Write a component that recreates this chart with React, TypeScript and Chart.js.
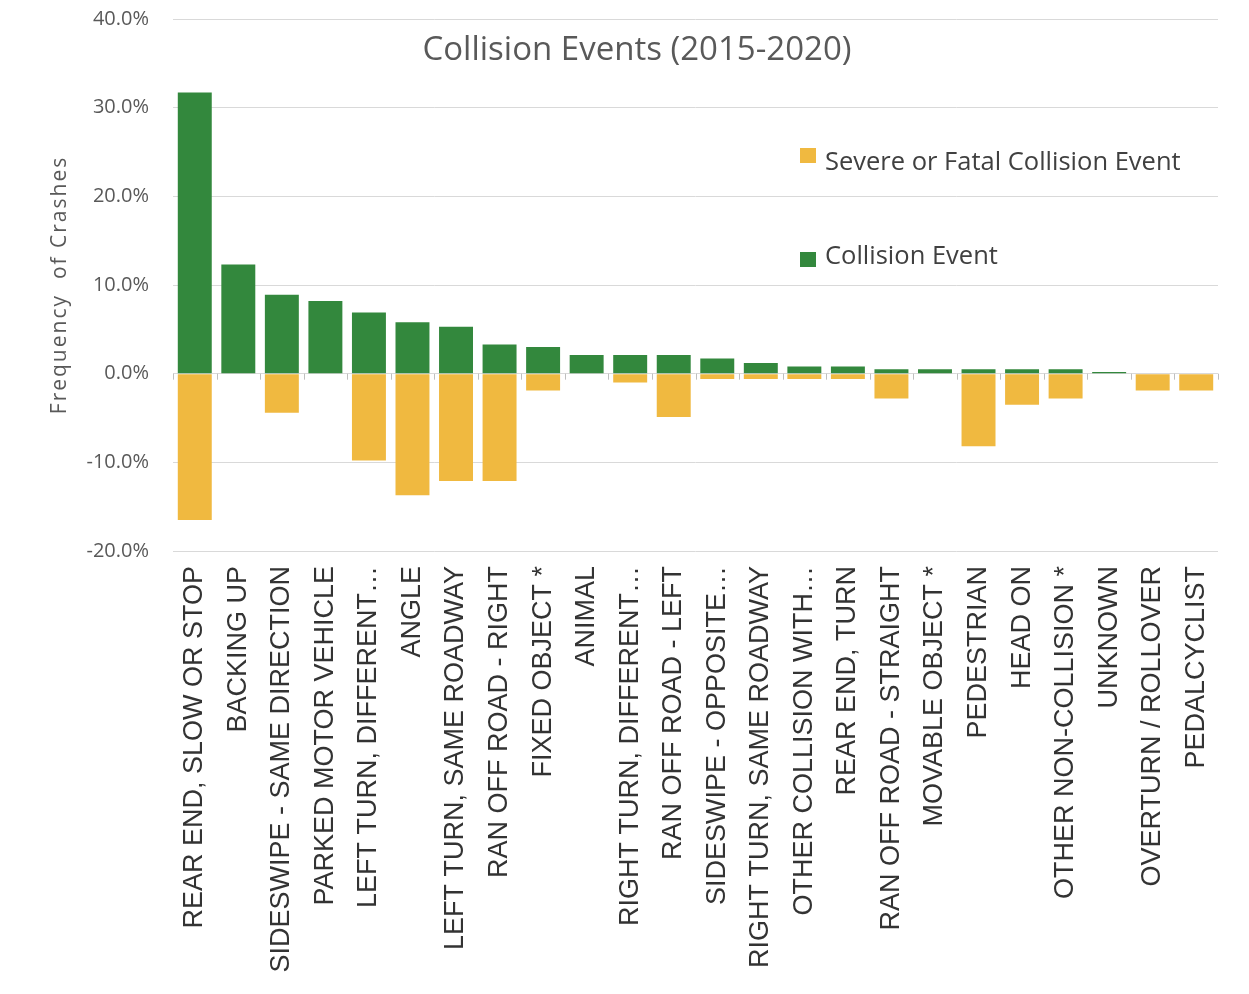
import React, { useEffect, useRef } from "react";
import { Chart, registerables } from "chart.js";

Chart.register(...registerables);

const categories = [
  "REAR END, SLOW OR STOP",
  "BACKING UP",
  "SIDESWIPE - SAME DIRECTION",
  "PARKED MOTOR VEHICLE",
  "LEFT TURN, DIFFERENT…",
  "ANGLE",
  "LEFT TURN, SAME ROADWAY",
  "RAN OFF ROAD - RIGHT",
  "FIXED OBJECT *",
  "ANIMAL",
  "RIGHT TURN, DIFFERENT…",
  "RAN OFF ROAD - LEFT",
  "SIDESWIPE - OPPOSITE…",
  "RIGHT TURN, SAME ROADWAY",
  "OTHER COLLISION WITH…",
  "REAR END, TURN",
  "RAN OFF ROAD - STRAIGHT",
  "MOVABLE OBJECT *",
  "PEDESTRIAN",
  "HEAD ON",
  "OTHER NON-COLLISION *",
  "UNKNOWN",
  "OVERTURN / ROLLOVER",
  "PEDALCYCLIST",
];

// Collision Event share (%)
const collisionEvent = [
  31.7, 12.3, 8.9, 8.2, 6.9, 5.8, 5.3, 3.3, 3.0, 2.1, 2.1, 2.1, 1.7, 1.2, 0.8,
  0.8, 0.5, 0.5, 0.5, 0.5, 0.5, 0.2, 0, 0,
];

// Severe or Fatal Collision Event share (%), plotted downward
const severeEvent = [
  -16.5, 0, -4.4, 0, -9.8, -13.7, -12.1, -12.1, -1.9, 0, -1.0, -4.9, -0.6, -0.6,
  -0.6, -0.6, -2.8, 0, -8.2, -3.5, -2.8, 0, -1.9, -1.9,
];

const chartTitle = "Collision Events (2015-2020)";
const yAxisTitle = "Frequency  of Crashes";
const seriesNames = ["Severe or Fatal Collision Event", "Collision Event"];
const yMin = -20;
const yMax = 40;
const yStep = 10;

const GREEN = "#33883d";
const YELLOW = "#f0b940";
const GRID = "#d9d9d9";
const TEXT_GRAY = "#595959";

const overlayPlugin = {
  id: "overlay",
  afterDraw(chart: any) {
    const ctx = chart.ctx;
    const xs = chart.scales.x;
    const ys = chart.scales.y;
    ctx.save();
    // small tick marks on the zero line between categories
    const y0 = ys.getPixelForValue(0);
    const step = xs.getPixelForValue(1) - xs.getPixelForValue(0);
    ctx.strokeStyle = "#bfbfbf";
    ctx.lineWidth = 1;
    for (let i = 0; i <= categories.length; i++) {
      const x = Math.round(xs.getPixelForValue(i) - step / 2) + 0.5;
      ctx.beginPath();
      ctx.moveTo(x, y0);
      ctx.lineTo(x, y0 + 6);
      ctx.stroke();
    }
    // title
    ctx.fillStyle = TEXT_GRAY;
    ctx.font = "33px 'Open Sans'";
    ctx.textAlign = "center";
    ctx.textBaseline = "middle";
    ctx.fillText(chartTitle, 629, 43);
    // y axis title
    ctx.save();
    ctx.translate(52, 277);
    ctx.rotate(-Math.PI / 2);
    ctx.font = "21px 'Open Sans'";
    (ctx as any).letterSpacing = "2px";
    ctx.fillStyle = TEXT_GRAY;
    ctx.fillText(yAxisTitle, 0, 0);
    ctx.restore();
    // legend
    ctx.font = "25.5px 'Open Sans'";
    ctx.textAlign = "left";
    ctx.textBaseline = "middle";
    const items = [
      { name: seriesNames[0], color: YELLOW, y: 155, sq: 140 },
      { name: seriesNames[1], color: GREEN, y: 249, sq: 244 },
    ];
    const lx = 792;
    for (const it of items) {
      ctx.fillStyle = it.color;
      ctx.fillRect(lx, it.sq, 16, 15);
      ctx.fillStyle = "#404040";
      ctx.fillText(it.name, lx + 25, it.y);
    }
    ctx.restore();
  },
};

export default function App() {
  const canvasRef = useRef<HTMLCanvasElement | null>(null);

  useEffect(() => {
    if (!canvasRef.current) return;
    const chart = new Chart(canvasRef.current, {
      type: "bar",
      data: {
        labels: categories,
        datasets: [
          {
            label: seriesNames[1],
            data: collisionEvent,
            backgroundColor: GREEN,
            barPercentage: 0.78,
            categoryPercentage: 1,
          },
          {
            label: seriesNames[0],
            data: severeEvent,
            backgroundColor: YELLOW,
            barPercentage: 0.78,
            categoryPercentage: 1,
          },
        ],
      },
      options: {
        animation: false,
        responsive: true,
        maintainAspectRatio: false,
        layout: { padding: { top: 11, right: 23, left: 0, bottom: 0 } },
        plugins: {
          legend: { display: false },
          title: { display: false },
          tooltip: { enabled: false },
        },
        scales: {
          x: {
            stacked: true,
            grid: { display: false, drawTicks: false },
            border: { display: false },
            ticks: {
              autoSkip: false,
              maxRotation: 90,
              minRotation: 90,
              padding: 15,
              color: "#333333",
              font: { family: "'Liberation Sans', Arial", size: 27 },
            },
            afterFit: (scale: any) => {
              scale.height = 435;
              scale.paddingLeft = 0;
              scale.paddingRight = 0;
            },
          },
          y: {
            stacked: true,
            min: yMin,
            max: yMax,
            grid: { color: GRID, drawTicks: false, lineWidth: 1 },
            border: { display: false },
            ticks: {
              stepSize: yStep,
              padding: 24,
              color: TEXT_GRAY,
              font: { family: "'Open Sans'", size: 20 },
              callback: (v: any) => Number(v).toFixed(1) + "%",
            },
            afterFit: (scale: any) => {
              scale.width = 165;
              scale.paddingTop = 0;
              scale.paddingBottom = 0;
            },
          },
        },
      },
      plugins: [overlayPlugin],
    });
    return () => chart.destroy();
  }, []);

  return (
    <div style={{ width: 1233, height: 978, position: "relative" }}>
      <canvas ref={canvasRef} />
    </div>
  );
}
